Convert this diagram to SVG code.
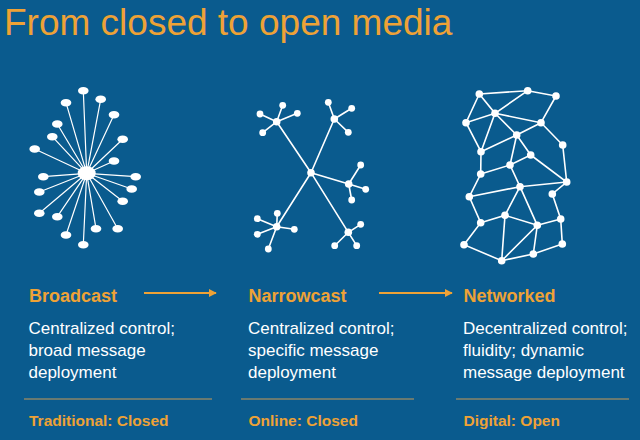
<svg xmlns="http://www.w3.org/2000/svg" width="640" height="440" viewBox="0 0 640 440">
<defs>
<style>
.title{font-family:"Liberation Sans",Arial,sans-serif;font-size:37px;fill:#eea236}
.head{font-family:"Liberation Sans",Arial,sans-serif;font-size:18px;font-weight:bold;fill:#eea236}
.body{font-family:"Liberation Sans",Arial,sans-serif;font-size:17px;fill:#ffffff}
.foot{font-family:"Liberation Sans",Arial,sans-serif;font-size:15.5px;font-weight:bold;fill:#eea236}
.rule{stroke:#c99a55;stroke-width:1}
.w1{stroke:#ffffff;stroke-width:1.2;fill:none}
.w2{stroke:#ffffff;stroke-width:1.6;fill:none}
.dot{fill:#ffffff}
.arr{stroke:#eea236;stroke-width:1.8;fill:none}
</style>
<marker id="ah" viewBox="0 0 10 10" refX="9" refY="5" markerWidth="4.5" markerHeight="4.5" orient="auto" markerUnits="strokeWidth">
<path d="M0,0 L10,5 L0,10 z" fill="#eea236"/>
</marker>
</defs>
<rect width="640" height="440" fill="#0a5b8e"/>
<text class="title" x="4" y="35">From closed to open media</text>

<g id="broadcast">
<g class="w1">
<path d="M86.7,173.3L83.3,90.7M86.7,173.3L66,102.7M86.7,173.3L100.7,99.3M86.7,173.3L114,114.7M86.7,173.3L57.3,124M86.7,173.3L52.3,136.7M86.7,173.3L122.7,139.3M86.7,173.3L34.7,149M86.7,173.3L114,161M86.7,173.3L43.3,176.7M86.7,173.3L135.7,176.7M86.7,173.3L39.3,192M86.7,173.3L131.7,189M86.7,173.3L122.7,201.3M86.7,173.3L39.3,213.3M86.7,173.3L57.3,216.7M86.7,173.3L96,228.7M86.7,173.3L117.7,228.7M86.7,173.3L66,235M86.7,173.3L83.3,244.7"/>
</g>
<g class="dot">
<ellipse cx="86.7" cy="173.3" rx="9" ry="7"/>
<ellipse cx="83.3" cy="90.7" rx="5.3" ry="3.8"/>
<ellipse cx="66" cy="102.7" rx="5.3" ry="3.8"/>
<ellipse cx="100.7" cy="99.3" rx="5.3" ry="3.8"/>
<ellipse cx="114" cy="114.7" rx="5.3" ry="3.8"/>
<ellipse cx="57.3" cy="124" rx="5.3" ry="3.8"/>
<ellipse cx="52.3" cy="136.7" rx="5.3" ry="3.8"/>
<ellipse cx="122.7" cy="139.3" rx="5.3" ry="3.8"/>
<ellipse cx="34.7" cy="149" rx="5.3" ry="3.8"/>
<ellipse cx="114" cy="161" rx="5.3" ry="3.8"/>
<ellipse cx="43.3" cy="176.7" rx="5.3" ry="3.8"/>
<ellipse cx="135.7" cy="176.7" rx="5.3" ry="3.8"/>
<ellipse cx="39.3" cy="192" rx="5.3" ry="3.8"/>
<ellipse cx="131.7" cy="189" rx="5.3" ry="3.8"/>
<ellipse cx="122.7" cy="201.3" rx="5.3" ry="3.8"/>
<ellipse cx="39.3" cy="213.3" rx="5.3" ry="3.8"/>
<ellipse cx="57.3" cy="216.7" rx="5.3" ry="3.8"/>
<ellipse cx="96" cy="228.7" rx="5.3" ry="3.8"/>
<ellipse cx="117.7" cy="228.7" rx="5.3" ry="3.8"/>
<ellipse cx="66" cy="235" rx="5.3" ry="3.8"/>
<ellipse cx="83.3" cy="244.7" rx="5.3" ry="3.8"/>
</g>
<text class="head" x="29" y="302">Broadcast</text>
<text class="body" x="28.5" y="334">Centralized control;</text>
<text class="body" x="28.5" y="356">broad message</text>
<text class="body" x="28.5" y="378">deployment</text>
<line class="rule" x1="24" y1="399" x2="212" y2="399"/>
<text class="foot" x="29" y="426">Traditional: Closed</text>
</g>

<g id="narrowcast">
<g class="w2">
<path d="M311,172.7L276.7,121.7M311,172.7L334.3,119M311,172.7L348.7,184M311,172.7L276.7,226.7M311,172.7L348.3,232.3"/>
<path d="M276.7,121.7L260,114M276.7,121.7L282.7,105.3M276.7,121.7L297.3,113.3M276.7,121.7L262.7,132.7"/>
<path d="M334.3,119L328.3,102.3M334.3,119L351.7,108.3M334.3,119L348.3,132.3"/>
<path d="M348.7,184L360.7,165M348.7,184L365.7,189.3M348.7,184L351.7,200"/>
<path d="M276.7,226.7L277.3,213.3M276.7,226.7L257.3,218.7M276.7,226.7L257.3,234.3M276.7,226.7L294.3,229.3M276.7,226.7L268.3,249"/>
<path d="M348.3,232.3L360.7,224.3M348.3,232.3L356.7,245.7M348.3,232.3L334.7,245.7"/>
</g>
<g class="dot">
<circle cx="311" cy="172.7" r="3.8"/>
<circle cx="276.7" cy="121.7" r="3.8"/>
<circle cx="334.3" cy="119" r="3.8"/>
<circle cx="348.7" cy="184" r="3.8"/>
<circle cx="276.7" cy="226.7" r="3.8"/>
<circle cx="348.3" cy="232.3" r="3.8"/>
<circle cx="260" cy="114" r="3.4"/>
<circle cx="282.7" cy="105.3" r="3.4"/>
<circle cx="297.3" cy="113.3" r="3.4"/>
<circle cx="262.7" cy="132.7" r="3.4"/>
<circle cx="328.3" cy="102.3" r="3.4"/>
<circle cx="351.7" cy="108.3" r="3.4"/>
<circle cx="348.3" cy="132.3" r="3.4"/>
<circle cx="360.7" cy="165" r="3.4"/>
<circle cx="365.7" cy="189.3" r="3.4"/>
<circle cx="351.7" cy="200" r="3.4"/>
<circle cx="277.3" cy="213.3" r="3.4"/>
<circle cx="257.3" cy="218.7" r="3.4"/>
<circle cx="257.3" cy="234.3" r="3.4"/>
<circle cx="294.3" cy="229.3" r="3.4"/>
<circle cx="268.3" cy="249" r="3.4"/>
<circle cx="360.7" cy="224.3" r="3.4"/>
<circle cx="356.7" cy="245.7" r="3.4"/>
<circle cx="334.7" cy="245.7" r="3.4"/>
</g>
<text class="head" x="248.5" y="302">Narrowcast</text>
<text class="body" x="248" y="334">Centralized control;</text>
<text class="body" x="248" y="356">specific message</text>
<text class="body" x="248" y="378">deployment</text>
<line class="rule" x1="241" y1="399" x2="414" y2="399"/>
<text class="foot" x="248.5" y="426">Online: Closed</text>
</g>

<g id="networked">
<g class="w2">
<path d="M479.3,94L527.7,90.7L556,96L541,122.7L562.7,145L566.7,182"/>
<path d="M479.3,94L495,113.3L527.7,90.7M479.3,94L466,122.7L495,113.3L541,122.7L516.7,135L495,113.3L481,151.7L466,122.7"/>
<path d="M516.7,135L481,151.7M516.7,135L530.7,155L510,165L516.7,135M530.7,155L566.7,182L552.3,194L560.7,219L562.3,244L533.3,254L501.7,260.7L464,244.7L480.7,222.7L469.3,196.7L480.7,174L481,151.7"/>
<path d="M480.7,174L510,165L520,186.7L566.7,182M520,186.7L469.3,196.7M520,186.7L505,215.3L480.7,222.7M520,186.7L537.3,225.3L505,215.3L501.7,260.7L537.3,225.3L533.3,254M537.3,225.3L560.7,219"/>
</g>
<g class="dot">
<circle cx="479.3" cy="94" r="3.8"/>
<circle cx="527.7" cy="90.7" r="3.8"/>
<circle cx="556" cy="96" r="3.8"/>
<circle cx="495" cy="113.3" r="3.8"/>
<circle cx="466" cy="122.7" r="3.8"/>
<circle cx="541" cy="122.7" r="3.8"/>
<circle cx="516.7" cy="135" r="3.8"/>
<circle cx="562.7" cy="145" r="3.8"/>
<circle cx="481" cy="151.7" r="3.8"/>
<circle cx="530.7" cy="155" r="3.8"/>
<circle cx="510" cy="165" r="3.8"/>
<circle cx="480.7" cy="174" r="3.8"/>
<circle cx="566.7" cy="182" r="3.8"/>
<circle cx="520" cy="186.7" r="3.8"/>
<circle cx="552.3" cy="194" r="3.8"/>
<circle cx="469.3" cy="196.7" r="3.8"/>
<circle cx="505" cy="215.3" r="3.8"/>
<circle cx="480.7" cy="222.7" r="3.8"/>
<circle cx="560.7" cy="219" r="3.8"/>
<circle cx="537.3" cy="225.3" r="3.8"/>
<circle cx="464" cy="244.7" r="3.8"/>
<circle cx="562.3" cy="244" r="3.8"/>
<circle cx="533.3" cy="254" r="3.8"/>
<circle cx="501.7" cy="260.7" r="3.8"/>
</g>
<text class="head" x="463.5" y="302">Networked</text>
<text class="body" x="463" y="334">Decentralized control;</text>
<text class="body" x="463" y="356">fluidity; dynamic</text>
<text class="body" x="463" y="378">message deployment</text>
<line class="rule" x1="456" y1="399" x2="629" y2="399"/>
<text class="foot" x="463.5" y="426">Digital: Open</text>
</g>

<g id="connectors">
<line class="arr" x1="144" y1="293" x2="216" y2="293" marker-end="url(#ah)"/>
<line class="arr" x1="379" y1="293" x2="452" y2="293" marker-end="url(#ah)"/>
</g>
</svg>
